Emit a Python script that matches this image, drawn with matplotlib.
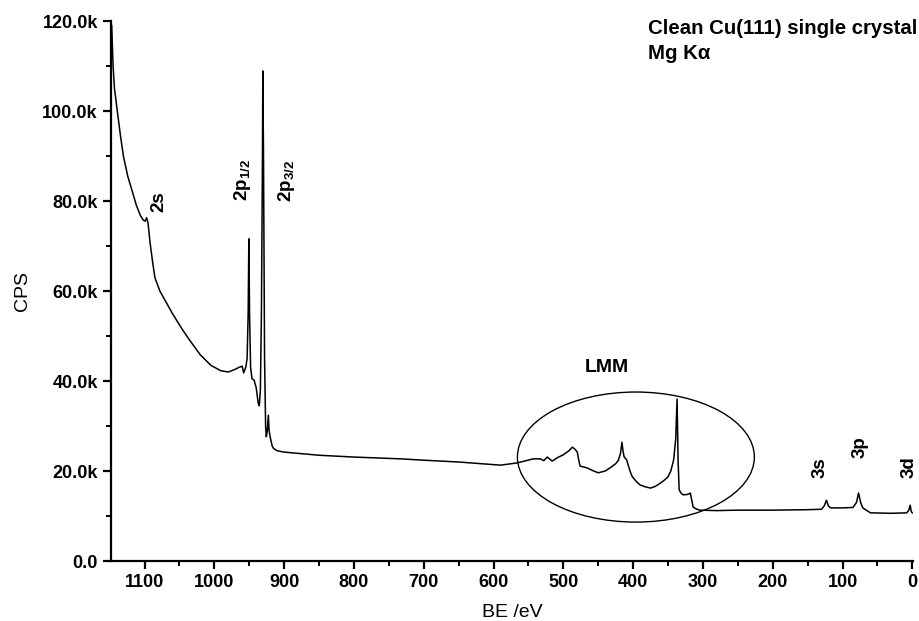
import matplotlib
matplotlib.use("Agg")
import matplotlib.pyplot as plt
from matplotlib.patches import Ellipse
from matplotlib.ticker import MultipleLocator, FuncFormatter

plt.rcParams['font.family'] = ['Liberation Sans', 'DejaVu Sans']
plt.rcParams['mathtext.fontset'] = 'custom'
plt.rcParams['mathtext.rm'] = 'Liberation Sans:bold'
plt.rcParams['mathtext.it'] = 'Liberation Sans:bold'
plt.rcParams['mathtext.bf'] = 'Liberation Sans:bold'

# Binding energy (eV) and counts (k CPS)
be = [1147, 1145, 1143, 1139, 1134, 1130, 1124, 1118, 1112, 1106, 1102, 1099,
      1097, 1095, 1092, 1088, 1085, 1078, 1070, 1060, 1046, 1035, 1020, 1005,
      991, 980, 970, 965, 960, 958, 955, 953, 951.5, 950.5, 949.5, 948, 946,
      943, 940, 937, 935.5, 934, 932.5, 931, 930.5, 929.5, 928, 926.5, 925.5,
      924, 922.6, 921.5, 920, 917, 915, 910, 900, 850, 800, 733, 700, 650,
      600, 590, 566, 543, 533, 528, 523, 516, 508, 500, 492, 487, 483, 480,
      478, 476, 466, 458, 450, 440, 433, 425, 421, 418, 416, 414.5, 413, 409,
      407, 404, 401, 395, 390, 383, 375, 368, 361, 355, 350, 346, 342, 339,
      337, 335.5, 334, 331, 328, 322, 318, 316, 314, 310, 304, 280, 250, 200,
      150, 130, 126, 123, 120, 117, 100, 85, 80, 77, 74, 71, 65, 60, 30, 8,
      5, 3, 1.5, 0]
cps_k = [119, 110, 105, 100, 94, 89.8, 85.5, 82.4, 79.2, 76.8, 75.8, 75.5,
         76.3, 75.2, 70.7, 66, 62.9, 60, 57.8, 55.0, 51.5, 49.0, 45.8, 43.5,
         42.3, 42.0, 42.6, 43.0, 43.3, 41.8, 43, 45, 55, 71.6, 55, 43, 40.5,
         40.2, 38.5, 35, 34.5, 38, 55, 90, 108.9, 90, 45, 30, 27.6,
         29, 32.4, 29, 27.6, 25.5, 25, 24.5, 24.2, 23.5, 23.1, 22.7, 22.4, 22.0,
         21.4, 21.3, 21.8, 22.7, 22.7, 22.3, 23.1, 22.2, 23.0, 23.6, 24.5, 25.3,
         24.8, 24.2, 22.5, 21.1, 20.7, 20.1, 19.6, 20.0, 20.7, 21.6, 22.4, 24,
         26.4, 24.5, 23.2, 22.4, 21.3, 19.8, 18.7, 17.6, 16.9, 16.5, 16.2, 16.6,
         17.3, 18.0, 18.7, 20, 22.4, 27, 36, 22, 15.8, 15.0, 14.7, 14.8, 15.1,
         13.5, 12.0, 11.6, 11.3, 11.2, 11.3, 11.3, 11.4, 11.5, 12.3, 13.5, 12.2,
         11.8, 11.8, 11.9, 13, 15.1, 13, 11.8, 11.2, 10.7, 10.6, 10.7, 11.3,
         12.4, 11, 10.7]

# Peak labels: text, BE position, CPS (k) position
peak_labels = [r'2s', r'2p$_{\mathregular{1/2}}$', r'2p$_{\mathregular{3/2}}$',
               r'3s', r'3p', r'3d']
peak_x = [1080, 960, 897, 132, 74.5, 4]
peak_y = [79.8, 84.7, 84.4, 20.7, 25.3, 20.9]

# LMM region ellipse
lmm_center = (396, 23.1)
lmm_width = 339.5
lmm_height = 28.9

x_ticks = [1100, 1000, 900, 800, 700, 600, 500, 400, 300, 200, 100, 0]
y_ticks = [0, 20, 40, 60, 80, 100, 120]

fig = plt.figure(figsize=(9.2, 6.21), dpi=100)
ax = fig.add_axes([111/920, 1 - 561/621, (913 - 111)/920, 540/621])

ax.plot(be, cps_k, color='black', lw=1.1)

ax.set_xlim(1148, -1)
ax.set_ylim(0, 120)

ax.set_xticks(x_ticks)
ax.xaxis.set_minor_locator(MultipleLocator(50))
ax.set_yticks(y_ticks)
ax.yaxis.set_minor_locator(MultipleLocator(10))
ax.yaxis.set_major_formatter(FuncFormatter(lambda v, p: '0.0' if v == 0 else f'{v:.1f}k'))
ax.xaxis.set_major_formatter(FuncFormatter(lambda v, p: f'{v:g}'))

for s in ['top', 'right']:
    ax.spines[s].set_visible(False)
for s in ['left', 'bottom']:
    ax.spines[s].set_linewidth(1.6)

ax.tick_params(which='major', direction='out', length=6, width=1.6, labelsize=13)
ax.tick_params(which='minor', direction='out', length=3.5, width=1.4)
for lab in ax.get_xticklabels() + ax.get_yticklabels():
    lab.set_fontweight('bold')

ax.set_xlabel('BE /eV', fontsize=14, labelpad=9)
ax.set_ylabel('CPS', fontsize=14, labelpad=8)

for t, x, y in zip(peak_labels, peak_x, peak_y):
    ax.text(x, y, t, rotation=90, ha='center', va='center', fontsize=13.5,
            fontweight='bold')

ax.add_patch(Ellipse(lmm_center, lmm_width, lmm_height, fill=False,
                     edgecolor='black', lw=1.0))
ax.text(437, 42.9, 'LMM', ha='center', va='center', fontsize=14, fontweight='bold')

ax.text(378, 118.4, 'Clean Cu(111) single crystal', ha='left', va='center',
        fontsize=14.7, fontweight='bold', clip_on=False)
ax.text(378, 112.8, 'Mg K\u03b1', ha='left', va='center',
        fontsize=14.7, fontweight='bold', clip_on=False)

fig.savefig('out.png', dpi=100)
